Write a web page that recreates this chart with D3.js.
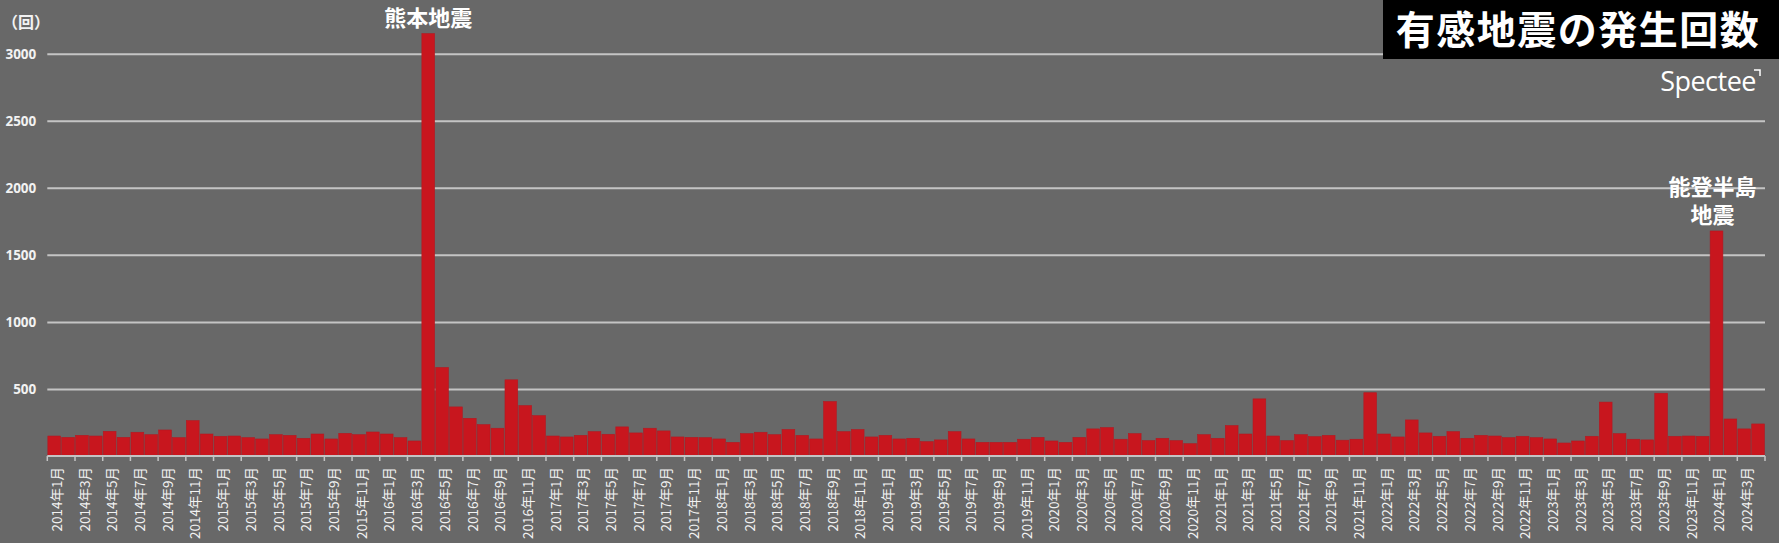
<!DOCTYPE html>
<html>
<head>
<meta charset="utf-8">
<script src="https://cdn.jsdelivr.net/npm/d3@7"></script>
<style>
  html, body { margin: 0; padding: 0; background: #686868; }
  svg { display: block; }
</style>
</head>
<body>
<div id="chart"></div>
<script>
// monthly felt earthquake counts, 2014-01 .. 2024-04
const years = [2014, 2015, 2016, 2017, 2018, 2019, 2020, 2021, 2022, 2023, 2024];
const counts2014 = [149, 139, 154, 149, 184, 139, 177, 159, 194, 137, 264, 164];
const counts2015 = [147, 149, 137, 127, 159, 154, 132, 164, 127, 169, 159, 179];
const counts2016 = [164, 137, 112, 3150, 660, 366, 281, 234, 207, 568, 376, 301];
const counts2017 = [149, 142, 154, 182, 162, 217, 172, 207, 187, 142, 139, 137];
const counts2018 = [127, 102, 167, 177, 159, 197, 154, 127, 406, 182, 197, 142];
const counts2019 = [154, 127, 132, 107, 120, 182, 127, 102, 102, 102, 125, 139];
const counts2020 = [112, 102, 139, 202, 212, 125, 167, 115, 132, 115, 92, 159];
const counts2021 = [132, 227, 164, 426, 149, 115, 159, 144, 154, 118, 125, 472];
const counts2022 = [164, 142, 269, 172, 147, 182, 132, 154, 149, 137, 147, 137];
const counts2023 = [127, 97, 112, 147, 402, 167, 125, 120, 468, 147, 149, 147];
const counts2024 = [1678, 276, 202, 239];
const yTicks = [0, 500, 1000, 1500, 2000, 2500, 3000];
const notes = [
    { month: '2016年4月', lines: ['熊本地震'] },
    { month: '2024年1月', lines: ['能登半島', '地震'] }
];
const title = '有感地震の発生回数';
const unitLabel = '（回）';

const allCounts = [counts2014, counts2015, counts2016, counts2017, counts2018, counts2019,
    counts2020, counts2021, counts2022, counts2023, counts2024];
const months = [];
const values = [];
allCounts.forEach((arr, i) => {
    arr.forEach((v, m) => {
        months.push(`${years[i]}年${m + 1}月`);
        values.push(v);
    });
});
const data = months.map((m, i) => ({ month: m, value: values[i] }));

const W = 1779, H = 543;
const margin = { left: 47.3, right: 14, top: 53.7, bottom: 87 };
const svg = d3.select('#chart').append('svg')
    .attr('width', W)
    .attr('height', H);

svg.append('rect').attr('width', W).attr('height', H).attr('fill', '#686868');

const x = d3.scaleBand()
    .domain(months)
    .range([margin.left, W - margin.right])
    .paddingInner(0.08)
    .paddingOuter(0.04);
const y = d3.scaleLinear()
    .domain([0, 3000])
    .range([H - margin.bottom, margin.top]);

const cjk = '"Noto Sans CJK JP", "Noto Sans", sans-serif';

// gridlines + y labels
const yAxis = d3.axisLeft(y).tickValues(yTicks.filter(d => d > 0))
    .tickFormat(d3.format('d'))
    .tickSize(-(W - margin.right - margin.left)).tickPadding(11);
const gy = svg.append('g')
    .attr('transform', `translate(${margin.left},0)`)
    .call(yAxis);
gy.select('.domain').remove();
gy.selectAll('.tick line').attr('stroke', '#c4c4c4').attr('stroke-width', 2);
gy.selectAll('.tick text')
    .attr('fill', '#f2f2f2')
    .attr('font-family', '"Noto Sans", Roboto, sans-serif')
    .attr('font-weight', 700)
    .attr('font-size', 13.5);

svg.append('text')
    .attr('x', 2).attr('y', 28)
    .attr('fill', '#f2f2f2')
    .attr('font-family', cjk)
    .attr('font-weight', 700)
    .attr('font-size', 16)
    .text(unitLabel);

// bars
svg.append('g').selectAll('rect')
    .data(data)
    .join('rect')
    .attr('x', d => x(d.month))
    .attr('y', d => y(d.value))
    .attr('width', x.bandwidth())
    .attr('height', d => y(0) - y(d.value))
    .attr('fill', '#c8161e')
    .attr('stroke', '#b51820')
    .attr('stroke-width', 0.6);

// x axis
const step = x.step();
const x0 = y(0);
const gx = svg.append('g');
gx.append('line')
    .attr('x1', margin.left).attr('x2', W - margin.right)
    .attr('y1', x0).attr('y2', x0)
    .attr('stroke', '#c4c4c4').attr('stroke-width', 2);
const tickIdx = d3.range(0, months.length + 1, 2);
gx.selectAll('line.tk')
    .data(tickIdx)
    .join('line')
    .attr('class', 'tk')
    .attr('x1', i => i < months.length ? x(months[i]) - step * 0.04 : W - margin.right)
    .attr('x2', i => i < months.length ? x(months[i]) - step * 0.04 : W - margin.right)
    .attr('y1', x0).attr('y2', x0 + 5)
    .attr('stroke', '#c4c4c4').attr('stroke-width', 1.5);
gx.selectAll('text')
    .data(months.filter((m, i) => i % 2 === 0))
    .join('text')
    .attr('transform', m => `translate(${x(m) + x.bandwidth() / 2 + 3},${x0 + 11}) rotate(-90)`)
    .attr('dy', '0.35em')
    .attr('text-anchor', 'end')
    .attr('fill', '#f2f2f2')
    .attr('font-family', cjk)
    .attr('font-size', 13.5)
    .text(m => m);

// annotations
notes.forEach(n => {
    const v = values[months.indexOf(n.month)];
    const cx = x(n.month) + x.bandwidth() / 2 - (n.lines.length > 1 ? 4 : 0);
    const top = y(v);
    const t = svg.append('text')
        .attr('text-anchor', 'middle')
        .attr('fill', '#ffffff')
        .attr('font-family', cjk)
        .attr('font-weight', 700)
        .attr('font-size', 22);
    n.lines.forEach((l, i) => {
        t.append('tspan')
            .attr('x', cx)
            .attr('y', top - 8 - (n.lines.length - 1 - i) * 28)
            .text(l);
    });
});

// title box
svg.append('rect')
    .attr('x', 1383).attr('y', 0)
    .attr('width', W - 1383).attr('height', 59)
    .attr('fill', '#000');
svg.append('text')
    .attr('x', 1578).attr('y', 44)
    .attr('text-anchor', 'middle')
    .attr('fill', '#fff')
    .attr('font-family', cjk)
    .attr('font-weight', 700)
    .attr('font-size', 39)
    .attr('letter-spacing', 1.5)
    .text(title);

// logo
svg.append('text')
    .attr('x', 1756).attr('y', 91)
    .attr('text-anchor', 'end')
    .attr('fill', '#fff')
    .attr('font-family', '"Open Sans", sans-serif')
    .attr('font-weight', 400)
    .attr('font-size', 27)
    .attr('letter-spacing', -0.5)
    .text('Spectee');
svg.append('path')
    .attr('d', 'M1754,70 L1760,70 L1760,76')
    .attr('fill', 'none')
    .attr('stroke', '#fff')
    .attr('stroke-width', 1.5);
</script>
</body>
</html>
